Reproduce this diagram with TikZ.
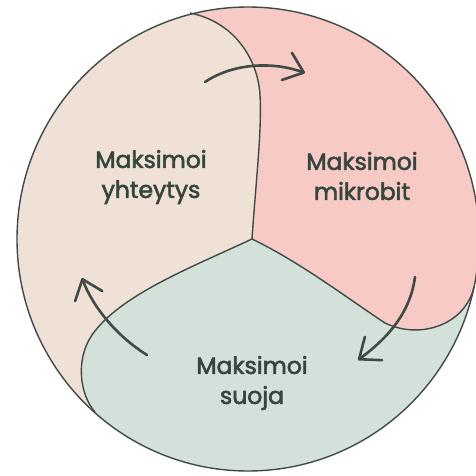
\documentclass[tikz,border=0pt]{standalone}
\usepackage{fontspec}
\setmainfont{Poppins}
\newfontfamily\labelfont{Poppins}[FakeBold=2.4]
\usetikzlibrary{arrows.meta}
\definecolor{beigec}{HTML}{F0E1D6}
\definecolor{pinkc}{HTML}{F7CAC6}
\definecolor{sagec}{HTML}{D4E0DA}
\definecolor{linec}{HTML}{3F4B45}
\definecolor{textc}{HTML}{34463E}
\tikzset{
  border/.style={draw=linec, line width=1.4pt, line join=round},
  cyclearrow/.style={draw=linec, line width=2.6pt, line cap=round,
    -{Straight Barb[length=18pt, width=29pt, line width=2.6pt, round]}},
  label/.style={text=textc, align=center, font=\labelfont\fontsize{23.5}{30}\selectfont, inner sep=0pt}
}
\begin{document}
\begin{tikzpicture}[x=1pt,y=-1pt]
\useasboundingbox (0,0) rectangle (476,476);
\fill[white] (0,0) rectangle (476,476);
\coordinate (O) at (248,239);
\coordinate (J) at (252,239);
\coordinate (Atop) at (190,13);
\coordinate (Bend) at (95,412);
\coordinate (Cend) at (474,287);
\begin{scope}
  \clip (O) ellipse [x radius=231, y radius=232];
  \fill[beigec] (0,0) rectangle (476,476);
  \fill[pinkc] (J) .. controls (256,180) and (262,130) .. (260,95)
    .. controls (258,60) and (235,22) .. (Atop) -- (190,-10) -- (490,-10) -- (490,287) -- (Cend)
    .. controls (465,325) and (420,340) .. (385,323)
    .. controls (350,300) and (300,262) .. (J) -- cycle;
  \fill[sagec] (J) .. controls (190,268) and (120,295) .. (92,335)
    .. controls (75,360) and (80,395) .. (Bend) -- (60,490) -- (490,490) -- (490,287) -- (Cend)
    .. controls (465,325) and (420,340) .. (385,323)
    .. controls (350,300) and (300,262) .. (J) -- cycle;
\end{scope}
\draw[border] (O) ellipse [x radius=231, y radius=232];
\draw[border] (J) .. controls (256,180) and (262,130) .. (260,95)
    .. controls (258,60) and (235,22) .. (Atop);
\draw[border] (J) .. controls (190,268) and (120,295) .. (92,335)
    .. controls (75,360) and (80,395) .. (Bend);
\draw[border] (J) .. controls (300,262) and (350,300) .. (385,323)
    .. controls (420,340) and (465,325) .. (Cend);
% arrows
\coordinate (a1s) at (205,82);
\coordinate (a1e) at (305,73);
\coordinate (a2s) at (415,277);
\coordinate (a2e) at (358,360);
\coordinate (a3s) at (147,355);
\coordinate (a3e) at (82,278);
\draw[cyclearrow] (a1s) .. controls (235,62) and (275,62) .. (a1e);
\draw[cyclearrow] (a2s) .. controls (410,315) and (385,340) .. (a2e);
\draw[cyclearrow] (a3s) .. controls (115,335) and (92,305) .. (a3e);
% labels
\node[label] (yht) at (151,177) {Maksimoi\\yhteytys};
\node[label] (mik) at (362,176) {Maksimoi\\mikrobit};
\node[label] (suo) at (252,383) {Maksimoi\\suoja};
\end{tikzpicture}
\end{document}
